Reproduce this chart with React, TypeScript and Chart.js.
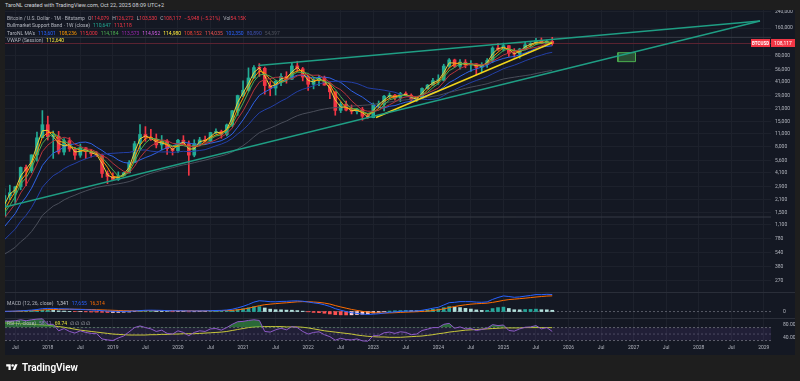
import React, { useEffect, useRef } from "react";
import { Chart, registerables } from "chart.js";

Chart.register(...registerables);

const FONT = "Roboto, 'Noto Sans', sans-serif";

// Monthly candles, first one = May 2017 (month index counted from Jan 2017)
const FIRST_MONTH = 4;
const X_MIN = 4.11;
const X_MAX = 145.33;

const opens = [
  1350, 2300, 2480, 2875, 4700, 4340, 6450, 9950,
  13860, 10220, 10330, 6930, 9240, 7500, 6400, 7730, 7030, 6630, 6370, 4040,
  3740, 3460, 3810, 4100, 5320, 8570, 10820, 10080, 9600, 8300, 9150, 7550,
  7190, 9350, 8540, 6410, 8620, 9450, 9140, 11350, 11650, 10780, 13800, 19700,
  28990, 33100, 45200, 58800, 57700, 37300, 35000, 41500, 47100, 43800, 61300, 57000,
  46200, 38500, 43200, 45500, 37700, 31800, 19900, 23300, 20050, 19420, 20490, 17160,
  16540, 23130, 23150, 28470, 29250, 27220, 30470, 29230, 25940, 26970, 34660, 37720,
  42280, 42580, 61130, 71330, 60640, 67490, 62680, 64620, 58970, 63330, 70220, 96450,
  93430, 102400, 84350, 82550, 94200, 104600, 107100, 115700, 108200, 114079,
];
const highs = [
  2760, 3000, 2920, 4760, 5000, 6470, 11500, 19800,
  17200, 11800, 11700, 9760, 9990, 7780, 8500, 7760, 7420, 7000, 6590, 4310,
  4110, 4200, 4150, 5600, 9070, 13880, 13200, 12330, 10950, 10540, 9500, 7740,
  9570, 10500, 9180, 9470, 10070, 10400, 11440, 12480, 12070, 14100, 19860, 29300,
  41950, 58350, 61800, 64900, 59600, 41300, 42400, 50500, 52900, 67000, 69000, 59100,
  47900, 45800, 48200, 47400, 40000, 31900, 24700, 25200, 22800, 20990, 21480, 18400,
  23950, 25250, 29200, 31000, 29850, 31430, 31800, 30200, 27500, 35200, 38400, 44700,
  48970, 64000, 73800, 72800, 71900, 71900, 70000, 65100, 66500, 73600, 99800, 108300,
  109300, 102500, 95000, 95800, 112000, 110500, 123200, 124400, 117900, 126272,
];
const lows = [
  1350, 2080, 1830, 2670, 2970, 4110, 5510, 9950,
  9400, 5900, 6600, 6430, 7050, 5760, 6070, 5880, 6110, 6200, 3650, 3120,
  3380, 3370, 3790, 4080, 5320, 7450, 9100, 9330, 7700, 7300, 6520, 6430,
  6850, 8450, 3850, 6150, 8110, 8900, 8990, 10960, 9850, 10420, 13210, 17570,
  28130, 32300, 45000, 47000, 30000, 28800, 29300, 37300, 39600, 43300, 53200, 42000,
  32900, 34300, 37200, 37600, 26700, 17600, 18800, 19600, 18200, 18200, 15500, 16300,
  16500, 21400, 19600, 26900, 25800, 24800, 28900, 25300, 24900, 26550, 34100, 37600,
  38500, 41900, 59000, 59100, 56500, 58400, 53500, 49000, 52600, 58900, 66800, 90500,
  89200, 78200, 76600, 74400, 93400, 98200, 105100, 107300, 107300, 103530,
];
const closes = [
  2300, 2480, 2875, 4700, 4340, 6450, 9950, 13860,
  10220, 10330, 6930, 9240, 7500, 6400, 7730, 7030, 6630, 6370, 4040, 3740,
  3460, 3810, 4100, 5320, 8570, 10820, 10080, 9600, 8300, 9150, 7550, 7190,
  9350, 8540, 6410, 8620, 9450, 9140, 11350, 11650, 10780, 13800, 19700, 28990,
  33100, 45200, 58800, 57700, 37300, 35000, 41500, 47100, 43800, 61300, 57000, 46200,
  38500, 43200, 45500, 37700, 31800, 19900, 23300, 20050, 19420, 20490, 17160, 16540,
  23130, 23150, 28470, 29250, 27220, 30470, 29230, 25940, 26970, 34660, 37720, 42280,
  42580, 61130, 71330, 60640, 67490, 62680, 64620, 58970, 63330, 70220, 96450, 93430,
  102400, 84350, 82550, 94200, 104600, 107100, 115700, 108200, 114050, 108117,
];

// Moving averages
const ma2 = [
  1825, 2390, 2678, 3788, 4520, 5395, 8200, 11905,
  12040, 10275, 8630, 8085, 8370, 6950, 7065, 7380, 6830, 6500, 5205, 3890,
  3600, 3635, 3955, 4710, 6945, 9695, 10450, 9840, 8950, 8725, 8350, 7370,
  8270, 8945, 7475, 7515, 9035, 9295, 10245, 11500, 11215, 12290, 16750, 24345,
  31045, 39150, 52000, 58250, 47500, 36150, 38250, 44300, 45450, 52550, 59150, 51600,
  42350, 40850, 44350, 41600, 34750, 25850, 21600, 21675, 19735, 19955, 18825, 16850,
  19835, 23140, 25810, 28860, 28235, 28845, 29850, 27585, 26455, 30815, 36190, 40000,
  42430, 51855, 66230, 65985, 64065, 65085, 63650, 61795, 61150, 66775, 83335, 94940,
  97915, 93375, 83450, 88375, 99400, 105850, 111400, 111950, 111125, 111084,
];
const ma3 = [
  1577, 2043, 2552, 3352, 3972, 5163, 6913, 10087,
  11343, 11470, 9160, 8833, 7890, 7713, 7210, 7053, 7130, 6677, 5680, 4717,
  3747, 3670, 3790, 4410, 5997, 8237, 9823, 10167, 9327, 9017, 8333, 7963,
  8030, 8360, 8100, 7857, 8160, 9070, 9980, 10713, 11260, 12077, 14760, 20830,
  27263, 35763, 45700, 53900, 51267, 43333, 37933, 41200, 44133, 50733, 54033, 54833,
  47233, 42633, 42400, 42133, 38333, 29800, 25000, 21083, 20923, 19987, 19023, 18063,
  18943, 20940, 24917, 26957, 28313, 28980, 28973, 28547, 27380, 29190, 33117, 38220,
  40860, 48663, 58347, 64367, 66487, 63603, 64930, 62090, 62307, 64173, 76667, 86700,
  97427, 93393, 89767, 87033, 93783, 101967, 109133, 110333, 112650, 110122,
];
const ma4 = [
  1480, 1803, 2251, 3089, 3599, 4591, 6360, 8650,
  10120, 11090, 10335, 9180, 8500, 7518, 7718, 7165, 6948, 6940, 6018, 5195,
  4403, 3763, 3778, 4173, 5450, 7203, 8698, 9768, 9700, 9283, 8650, 8048,
  8310, 8158, 7873, 8230, 8255, 8405, 9640, 10398, 10730, 11895, 13983, 18318,
  23898, 31748, 41523, 48700, 49750, 47200, 42875, 40225, 41850, 48425, 52300, 52075,
  50750, 46225, 43350, 41225, 39550, 33725, 28175, 23763, 20668, 20815, 19280, 18403,
  19330, 19995, 22823, 26000, 27023, 28853, 29043, 28215, 28153, 29200, 31323, 35408,
  39310, 45928, 54330, 58920, 65148, 65535, 63858, 63440, 62400, 64285, 72243, 80858,
  90625, 94158, 90683, 90875, 91425, 97113, 105400, 108900, 111263, 111517,
];
const ma6 = [
  1308, 1562, 1879, 2464, 3008, 3858, 5133, 7029,
  8253, 9192, 9623, 10088, 9680, 8437, 8022, 7472, 7422, 6943, 6367, 5923,
  5212, 4675, 4253, 4078, 4833, 6013, 7117, 8082, 8782, 9420, 9250, 8645,
  8523, 8347, 8032, 7943, 8260, 8585, 8918, 9437, 10165, 11028, 12737, 16045,
  19670, 25262, 33265, 40582, 43515, 44517, 45917, 46233, 43733, 44333, 47617, 49483,
  48983, 48333, 48617, 44683, 40483, 36100, 33567, 29708, 25362, 22493, 20053, 19493,
  19465, 19982, 21490, 22950, 24627, 26948, 27965, 28430, 28180, 29082, 30832, 32800,
  35025, 40890, 48283, 52613, 57575, 60975, 64648, 64288, 62955, 64552, 69378, 74503,
  80800, 85030, 88233, 92230, 93588, 95867, 98083, 102058, 107308, 109628,
];
const ma10 = [
  1048, 1238, 1465, 1865, 2225, 2774, 3672, 4939,
  5853, 6751, 7214, 7890, 8352, 8522, 8861, 8919, 8587, 7838, 7220, 6561,
  6214, 5671, 5331, 5223, 5307, 5686, 6031, 6354, 6780, 7321, 7730, 8068,
  8593, 8915, 8699, 8479, 8416, 8370, 8675, 8925, 9248, 9909, 10944, 12989,
  15658, 19316, 24251, 29107, 31702, 34037, 37109, 40439, 42849, 46080, 48470, 48570,
  46540, 45090, 45910, 46180, 45210, 42490, 40440, 36315, 32557, 29986, 27852, 25186,
  22949, 21494, 21161, 22096, 22488, 23530, 24511, 25056, 26037, 27849, 29308, 31221,
  32632, 35820, 40231, 43248, 47074, 50748, 54513, 56944, 59505, 62299, 67686, 70916,
  74023, 76394, 77900, 81052, 85050, 89863, 95000, 98798, 100558, 102027,
];
const ma20 = [
  755, 863, 988, 1202, 1400, 1701, 2177, 2848,
  3332, 3815, 4131, 4564, 4908, 5193, 5543, 5846, 6129, 6388, 6536, 6656,
  6714, 6780, 6842, 6873, 7084, 7303, 7309, 7096, 7000, 6941, 6972, 6870,
  6962, 7069, 7003, 7083, 7224, 7362, 7728, 8123, 8489, 8989, 9769, 10952,
  12179, 13898, 16334, 18739, 20189, 21481, 23179, 25174, 26897, 29535, 32064, 33943,
  35396, 37099, 38806, 40109, 41160, 41465, 41645, 41198, 40514, 39278, 37196, 35138,
  34430, 33837, 33186, 32293, 31464, 29923, 28534, 27521, 26945, 26518, 26129, 26358,
  26897, 28958, 31360, 33389, 35793, 37902, 40275, 42397, 44407, 46760, 50159, 53368,
  57127, 59821, 62487, 65900, 69782, 73404, 77303, 80599, 84172, 86521,
];
const ma50 = [
  522, 569, 624, 716, 800, 927, 1123, 1396,
  1578, 1770, 1893, 2067, 2208, 2327, 2469, 2597, 2717, 2835, 2908, 2976,
  3038, 3108, 3185, 3287, 3453, 3665, 3862, 4048, 4209, 4387, 4533, 4671,
  4850, 5013, 5133, 5297, 5478, 5652, 5868, 6088, 6291, 6555, 6937, 7503,
  8150, 9035, 10191, 11322, 12046, 12719, 13503, 14395, 15214, 16346, 17399, 18194,
  18765, 19352, 20057, 20605, 21102, 21315, 21631, 21904, 22138, 22407, 22618, 22821,
  23203, 23591, 24092, 24600, 25063, 25566, 25979, 26281, 26619, 27120, 27709, 28371,
  29072, 30151, 31390, 32432, 33654, 34735, 35839, 36835, 37875, 39046, 40760, 42352,
  44006, 45113, 46102, 47082, 47998, 48986, 50554, 52018, 53469, 54690,
];

// MACD (12, 26, close), values in thousands of USD
const macdK = [
  0.2, 0.3, 0.5, 0.8, 1.1, 1.5, 2.1, 3.0,
  3.2, 3.3, 2.9, 2.8, 2.6, 2.3, 2.2, 1.9, 1.6, 1.3, 0.9, 0.5,
  0.3, 0.2, 0.2, 0.3, 0.6, 1.0, 1.3, 1.4, 1.3, 1.2, 1.0, 0.8,
  0.8, 0.8, 0.6, 0.6, 0.7, 0.7, 0.9, 1.1, 1.2, 1.6, 2.4, 3.8,
  5.4, 7.4, 9.8, 11.2, 10.8, 10.2, 10.1, 10.5, 10.6, 11.0, 11.1, 10.7,
  9.9, 9.0, 8.3, 7.0, 5.3, 3.0, 1.4, 0.0, -1.2, -1.9, -2.6, -3.0,
  -2.7, -2.3, -1.6, -0.9, -0.4, 0.1, 0.5, 0.5, 0.6, 1.3, 2.3, 3.5,
  4.4, 6.8, 9.2, 9.6, 10.3, 10.3, 10.3, 9.8, 9.6, 10.0, 12.6, 14.6,
  16.2, 15.6, 14.8, 15.2, 16.0, 16.7, 17.6, 17.5, 17.9, 17.655,
];
const signalK = [
  0.1, 0.2, 0.3, 0.5, 0.7, 0.9, 1.2, 1.7,
  1.9, 2.1, 2.2, 2.3, 2.4, 2.4, 2.3, 2.2, 2.1, 1.9, 1.7, 1.5,
  1.3, 1.1, 0.9, 0.8, 0.7, 0.7, 0.8, 0.9, 1.0, 1.0, 1.0, 1.0,
  0.9, 0.9, 0.9, 0.8, 0.8, 0.8, 0.8, 0.9, 0.9, 1.0, 1.3, 1.8,
  2.5, 3.5, 4.8, 6.1, 7.1, 7.7, 8.2, 8.7, 9.1, 9.6, 10.1, 10.3,
  10.2, 9.9, 9.5, 8.8, 7.8, 6.2, 4.8, 3.5, 2.2, 1.2, 0.2, -0.6,
  -1.2, -1.5, -1.5, -1.4, -1.2, -0.9, -0.6, -0.4, -0.2, 0.1, 0.5, 1.1,
  1.8, 2.8, 4.1, 5.2, 6.2, 7.0, 7.7, 8.1, 8.4, 8.7, 9.5, 10.5,
  11.6, 12.4, 12.9, 13.4, 13.9, 14.5, 15.1, 15.6, 16.1, 16.314,
];
const histK = [
  0.1, 0.1, 0.2, 0.3, 0.4, 0.6, 0.9, 1.3,
  1.3, 1.2, 0.7, 0.5, 0.2, -0.1, -0.1, -0.3, -0.5, -0.6, -0.8, -1.0,
  -1.0, -0.9, -0.7, -0.5, -0.1, 0.3, 0.5, 0.5, 0.3, 0.2, 0.0, -0.2,
  -0.1, -0.1, -0.3, -0.2, -0.1, -0.1, 0.1, 0.2, 0.3, 0.6, 1.1, 2.0,
  2.9, 3.9, 5.0, 5.1, 3.7, 2.5, 1.9, 1.8, 1.5, 1.4, 1.0, 0.4,
  -0.3, -0.9, -1.2, -1.8, -2.5, -3.2, -3.4, -3.5, -3.4, -3.1, -2.8, -2.4,
  -1.5, -0.8, -0.1, 0.5, 0.8, 1.0, 1.1, 0.9, 0.8, 1.2, 1.8, 2.4,
  2.6, 4.0, 5.1, 4.4, 4.1, 3.3, 2.6, 1.7, 1.2, 1.3, 3.1, 4.1,
  4.6, 3.2, 1.9, 1.8, 2.1, 2.2, 2.5, 1.9, 1.8, 1.341,
];

// RSI (7) and its moving average
const rsi = [
  90, 90, 91, 94, 91, 94, 96, 97,
  80, 80, 60, 67, 58, 53, 60, 55, 52, 51, 35, 32,
  30, 38, 44, 57, 70, 75, 70, 66, 58, 62, 52, 50,
  60, 55, 45, 55, 60, 58, 66, 67, 62, 70, 80, 88,
  89, 92, 94, 92, 58, 56, 63, 68, 63, 73, 70, 58,
  50, 55, 57, 48, 42, 31, 37, 33, 32, 35, 29, 28,
  45, 45, 54, 56, 52, 57, 55, 48, 50, 61, 65, 70,
  70, 80, 83, 68, 72, 66, 67, 61, 64, 68, 79, 76,
  78, 61, 59, 66, 71, 72, 76, 66, 70, 58.11,
];
const rsiMa = [
  84, 84, 83, 82, 81, 80, 79, 78,
  77, 75, 73, 71, 68, 65, 62, 60, 58, 56, 54, 52,
  50, 49, 48, 47, 47, 47, 47, 48, 48, 49, 49, 50,
  50, 51, 51, 51, 52, 53, 54, 55, 56, 58, 61, 64,
  67, 70, 72, 73, 73, 73, 73, 73, 72, 72, 72, 71,
  69, 66, 63, 60, 58, 56, 54, 52, 50, 47, 45, 43,
  42, 41, 41, 40, 40, 40, 41, 42, 43, 44, 46, 48,
  51, 53, 56, 58, 60, 62, 63, 64, 65, 66, 67, 68,
  69, 69, 69, 69, 70, 70, 70, 70, 70, 69.74,
];

// Drawings (month index, price)
const upperTrendX = [50.8, 143.3];
const upperTrendY = [62000, 191000];
const lowerTrendX = [4.1, 143.3];
const lowerTrendY = [1730, 191000];
const yellowTrendX = [72.5, 105.0];
const yellowTrendY = [16600, 110300];
const boxX = [117.1, 120.35];
const boxY = [68300, 85700];
const lastClose = 108117;
const athLevel = 126272;
const lowLevel = 1340;

// Axis ticks
const priceTicks = [240000, 160000, 80000, 56000, 41000, 29000, 21000, 15000, 11000, 8000, 5600, 4100, 2900, 2100, 1500, 1100, 780, 540, 380, 270];
const xTickLabels = ["Jul", "2018", "Jul", "2019", "Jul", "2020", "Jul", "2021", "Jul", "2022", "Jul", "2023", "Jul", "2024", "Jul", "2025", "Jul", "2026", "Jul", "2027", "Jul", "2028", "Jul", "2029"];
const rsiTicks = [80, 40];
const rsiBands = [70, 50, 30];

const UP = "#22ab94";
const DOWN = "#f23645";
const AXIS_TEXT = "#b2b5be";
const GRID = "#1d212c";

const monthOf = (i: number) => FIRST_MONTH + i;
const series = (vals: number[]) => vals.map((v, i) => ({ x: monthOf(i), y: v }));
const pairs = (xs: number[], ys: number[]) => xs.map((x, i) => ({ x, y: ys[i] }));
const flat = (v: number) => [{ x: X_MIN, y: v }, { x: X_MAX, y: v }];

const decorPlugin = {
  id: "decor",
  beforeDatasetsDraw(chart: any) {
    const { ctx, width } = chart;
    const s = chart.scales;
    ctx.save();
    ctx.strokeStyle = "#2a2e39";
    ctx.lineWidth = 1;
    [s.macd.top, s.rsi.top].forEach((y: number) => {
      const yy = Math.round(y) + 0.5;
      ctx.beginPath();
      ctx.moveTo(0, yy);
      ctx.lineTo(width, yy);
      ctx.stroke();
    });
    ctx.restore();
  },
  afterDraw(chart: any) {
    const { ctx, width } = chart;
    const right = chart.chartArea.right;
    const y = Math.round(chart.scales.y.getPixelForValue(lastClose));
    ctx.save();
    ctx.fillStyle = "#f23645";
    ctx.fillRect(right - 20, y - 4, 19, 8);
    ctx.fillRect(right, y - 4, width - right, 8);
    ctx.fillStyle = "#ffffff";
    ctx.textBaseline = "middle";
    ctx.textAlign = "center";
    ctx.font = `bold 4.5px ${FONT}`;
    ctx.fillText("BTCUSD", right - 10.5, y + 0.5);
    ctx.font = `5px ${FONT}`;
    ctx.fillText(lastClose.toLocaleString("en-US"), (right + width) / 2, y + 0.5);
    ctx.restore();
  },
};

function buildConfig(): any {
  const candleColors = closes.map((c, i) => (c >= opens[i] ? UP : DOWN));
  const histColors = histK.map((h, i) => {
    const prev = i > 0 ? histK[i - 1] : 0;
    if (h >= 0) return h >= prev ? "#26a69a" : "#b2dfdb";
    return h < prev ? "#ff5252" : "#ffcdd2";
  });
  const line = (data: any[], color: string, width: number, axis: string, order: number, extra: any = {}) => ({
    type: "line",
    data,
    borderColor: color,
    borderWidth: width,
    pointRadius: 0,
    yAxisID: axis,
    order,
    fill: false,
    tension: 0,
    ...extra,
  });
  const boxPath = [
    { x: boxX[0], y: boxY[0] },
    { x: boxX[1], y: boxY[0] },
    { x: boxX[1], y: boxY[1] },
    { x: boxX[0], y: boxY[1] },
    { x: boxX[0], y: boxY[0] },
  ];

  const datasets: any[] = [
    // horizontal levels
    line(flat(lastClose), "#5c2432", 1, "y", 20),
    line(flat(athLevel), "#363a45", 1, "y", 20),
    line(flat(lowLevel), "#363a45", 1, "y", 20),
    // candles
    {
      type: "bar",
      data: highs.map((h, i) => ({ x: monthOf(i), y: [lows[i], h] })),
      backgroundColor: candleColors,
      barThickness: 1,
      grouped: false,
      yAxisID: "y",
      order: 12,
    },
    {
      type: "bar",
      data: opens.map((o, i) => ({ x: monthOf(i), y: [o, closes[i]] })),
      backgroundColor: candleColors,
      barThickness: 3,
      minBarLength: 1,
      grouped: false,
      yAxisID: "y",
      order: 11,
    },
    // moving averages
    line(series(ma50), "#4a4e5a", 1, "y", 9),
    line(series(ma20), "#2440a8", 1, "y", 9),
    line(series(ma10), "#2f62e6", 1, "y", 9),
    line(series(ma6), "#b8343c", 1, "y", 8),
    line(series(ma4), "#4caf50", 1, "y", 8),
    line(series(ma3), "#ff9800", 1, "y", 8),
    line(series(ma2), "#e6d33a", 1, "y", 8),
    // drawings
    line(pairs(lowerTrendX, lowerTrendY), "#1f9e84", 1.5, "y", 2),
    line(pairs(upperTrendX, upperTrendY), "#1f9e84", 1.5, "y", 2),
    line(pairs(yellowTrendX, yellowTrendY), "#f2d61b", 1.5, "y", 2),
    line(boxPath, "#4caf50", 1, "y", 2, { fill: "shape", backgroundColor: "rgba(76,175,80,0.35)" }),
    // MACD pane
    line(flat(0), "#575b66", 1, "macd", 7, { borderDash: [2, 2] }),
    {
      type: "bar",
      data: series(histK),
      backgroundColor: histColors,
      barThickness: 3,
      grouped: false,
      yAxisID: "macd",
      order: 6,
    },
    line(series(signalK), "#ff6d00", 1, "macd", 5),
    line(series(macdK), "#2962ff", 1, "macd", 4),
    // RSI pane
    line(flat(rsiBands[0]), "#5d606b", 1, "rsi", 7, {
      borderDash: [2, 2],
      fill: { target: { value: rsiBands[2] }, above: "rgba(126,87,194,0.13)", below: "rgba(0,0,0,0)" },
    }),
    line(flat(rsiBands[1]), "#464a55", 1, "rsi", 7, { borderDash: [2, 2] }),
    line(flat(rsiBands[2]), "#5d606b", 1, "rsi", 7, { borderDash: [2, 2] }),
    line(series(rsiMa), "#c9c83a", 1, "rsi", 4),
    line(series(rsi), "#8e5ac8", 1, "rsi", 3, {
      fill: { target: { value: rsiBands[0] }, above: "rgba(56,160,70,0.6)", below: "rgba(0,0,0,0)" },
    }),
  ];

  const tickFont = { size: 5, family: FONT };
  const yCommon = (weight: number) => ({
    position: "right",
    stack: "panes",
    stackWeight: weight,
    border: { display: false },
    afterFit: (s: any) => {
      s.width = 24;
      s.paddingTop = 0;
      s.paddingBottom = 0;
    },
  });

  return {
    type: "bar",
    data: { datasets },
    plugins: [decorPlugin],
    options: {
      responsive: false,
      animation: false,
      devicePixelRatio: 1,
      events: [],
      layout: { padding: 0 },
      plugins: { legend: { display: false }, tooltip: { enabled: false } },
      elements: { point: { radius: 0 } },
      scales: {
        x: {
          type: "linear",
          min: X_MIN,
          max: X_MAX,
          offset: false,
          position: "bottom",
          border: { display: false },
          grid: { color: GRID, drawTicks: false, offset: false },
          ticks: {
            color: AXIS_TEXT,
            font: tickFont,
            padding: 3,
            autoSkip: false,
            maxRotation: 0,
            callback: (v: number) => xTickLabels[Math.round((v - 6) / 6)] ?? "",
          },
          afterBuildTicks: (s: any) => {
            s.ticks = xTickLabels.map((_, i) => ({ value: 6 + 6 * i }));
          },
          afterFit: (s: any) => {
            s.height = 13;
            s.paddingLeft = 0;
            s.paddingRight = 0;
          },
        },
        y: {
          ...yCommon(282),
          type: "logarithmic",
          min: 201,
          max: 252300,
          grid: { color: GRID, drawTicks: false },
          ticks: {
            color: AXIS_TEXT,
            font: tickFont,
            padding: 4,
            autoSkip: false,
            callback: (v: number) => Number(v).toLocaleString("en-US"),
          },
          afterBuildTicks: (s: any) => {
            s.ticks = priceTicks.map((v) => ({ value: v }));
          },
        },
        macd: {
          ...yCommon(26),
          type: "linear",
          min: -6.7,
          max: 20.3,
          grid: { display: false },
          ticks: { color: AXIS_TEXT, font: tickFont, padding: 4, callback: () => "0" },
          afterBuildTicks: (s: any) => {
            s.ticks = [{ value: 0 }];
          },
        },
        rsi: {
          ...yCommon(24),
          type: "linear",
          min: 25.5,
          max: 99.5,
          grid: { display: false },
          ticks: { color: AXIS_TEXT, font: tickFont, padding: 4, callback: (v: number) => Number(v).toFixed(2) },
          afterBuildTicks: (s: any) => {
            s.ticks = rsiTicks.map((v) => ({ value: v }));
          },
        },
      },
    },
  };
}

const GRAY = "#b2b5be";
const S = (color: string, text: string, ml = 0) => (
  <span style={{ color, marginLeft: ml }}>{text}</span>
);

const legendRow = (top: number, children: React.ReactNode) => (
  <div
    style={{
      position: "absolute",
      left: 7,
      top,
      height: 7,
      lineHeight: "7px",
      fontSize: 5,
      whiteSpace: "nowrap",
      fontFamily: FONT,
    }}
  >
    {children}
  </div>
);

export default function App() {
  const ref = useRef<HTMLCanvasElement>(null);
  useEffect(() => {
    const chart = new Chart(ref.current as HTMLCanvasElement, buildConfig());
    return () => chart.destroy();
  }, []);

  return (
    <div
      style={{
        position: "fixed",
        left: 0,
        top: 0,
        width: 800,
        height: 381,
        background: "#1e1e1e",
        overflow: "hidden",
        fontFamily: FONT,
      }}
    >
      <div
        style={{
          position: "absolute",
          left: 5,
          top: 2,
          fontSize: 5.5,
          lineHeight: "7px",
          color: "#d1d4dc",
          whiteSpace: "nowrap",
        }}
      >
        TaroNL created with TradingView.com, Oct 22, 2025 08:09 UTC+2
      </div>
      <div style={{ position: "absolute", left: 5, top: 10, width: 790, height: 345, background: "#141823" }}>
        <canvas ref={ref} width={790} height={345} style={{ display: "block", width: 790, height: 345 }} />
      </div>

      {legendRow(15, (
        <>
          {S(GRAY, "Bitcoin / U.S. Dollar · 1M · Bitstamp")}
          {S(GRAY, "O", 3)}{S(DOWN, "114,079")}
          {S(GRAY, "H", 3)}{S(DOWN, "126,272")}
          {S(GRAY, "L", 3)}{S(DOWN, "103,530")}
          {S(GRAY, "C", 3)}{S(DOWN, "108,117")}
          {S(DOWN, "−5,948 (−5.21%)", 3)}
          {S(GRAY, "Vol", 3)}{S(DOWN, "54.15K")}
        </>
      ))}
      {legendRow(22, (
        <>
          {S(GRAY, "Bullmarket Support Band · 1W (close)")}
          {S("#22ab94", "110,647", 3)}
          {S(DOWN, "113,118", 3)}
        </>
      ))}
      {legendRow(29.5, (
        <>
          {S(GRAY, "TaroNL MA's")}
          {S("#2962ff", "113,601", 3)}
          {S("#ff9800", "108,236", 3)}
          {S("#f23645", "115,000", 3)}
          {S("#4caf50", "114,184", 3)}
          {S("#9c27b0", "113,573", 3)}
          {S("#d05ce3", "114,952", 3)}
          {S("#ffeb3b", "114,980", 3)}
          {S("#f44336", "108,152", 3)}
          {S("#ef5350", "114,035", 3)}
          {S("#2962ff", "102,350", 3)}
          {S("#3f51b5", "80,890", 3)}
          {S("#50535e", "54,397", 3)}
        </>
      ))}
      {legendRow(37, (
        <>
          {S(GRAY, "VWAP (Session)")}
          {S("#ffeb3b", "112,640", 3)}
        </>
      ))}
      {legendRow(300, (
        <>
          {S(GRAY, "MACD (12, 26, close)")}
          {S("#d1d4dc", "1,341", 3)}
          {S("#2962ff", "17,655", 3)}
          {S("#ff6d00", "16,314", 3)}
        </>
      ))}
      {legendRow(320, (
        <>
          {S(GRAY, "RSI (7, close)")}
          {S("#9575cd", "58.11", 3)}
          {S("#e6e33a", "69.74", 3)}
          {S(GRAY, "∅ ∅ ∅ ∅", 3)}
        </>
      ))}

      <div style={{ position: "absolute", left: 5, top: 362, display: "flex", alignItems: "center", height: 11 }}>
        <svg width="14" height="9" viewBox="0 0 36 28" style={{ display: "block" }}>
          <path d="M14 22H7V11H0V4h14v18z" fill="#ffffff" />
          <path d="M28 22h-8l7.5-18h8L28 22z" fill="#ffffff" />
          <circle cx="20" cy="8" r="4" fill="#ffffff" />
        </svg>
        <span style={{ marginLeft: 3, color: "#ffffff", fontSize: 10, fontWeight: 600, lineHeight: "11px" }}>
          TradingView
        </span>
      </div>
    </div>
  );
}
